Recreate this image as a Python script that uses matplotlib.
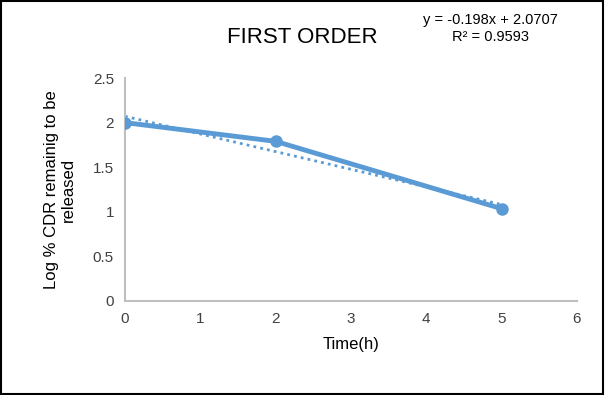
import numpy as np
import matplotlib.pyplot as plt

# Data
time_h = [0, 2, 5]
log_cdr = [2.0, 1.79, 1.035]
slope = -0.198
intercept = 2.0707
r_squared = 0.9593

plt.rcParams['font.family'] = ['Liberation Sans', 'DejaVu Sans']

fig = plt.figure(figsize=(6.05, 3.95), dpi=100)
ax = fig.add_axes([0.2066, 0.238, 0.747, 0.5645])

blue = '#5B9BD5'
ax.plot(time_h, log_cdr, color=blue, linewidth=3.5, marker='o', markersize=8,
        solid_capstyle='round', zorder=3)

# linear trendline
xt = np.array([min(time_h), max(time_h)])
ax.plot(xt, slope * xt + intercept, color=blue, linewidth=2, linestyle=(0, (1, 1.5)), zorder=2)

ax.set_xlim(0, 6)
ax.set_ylim(0, 2.5)
ax.set_xticks(range(0, 7))
ax.set_yticks([0, 0.5, 1, 1.5, 2, 2.5])
ax.set_yticklabels(['0', '0.5', '1', '1.5', '2', '2.5'])
ax.tick_params(length=0, labelsize=11, colors='#404040', pad=8)

for s in ['top', 'right']:
    ax.spines[s].set_visible(False)
for s in ['left', 'bottom']:
    ax.spines[s].set_color('#BFBFBF')
    ax.spines[s].set_linewidth(1.5)

ax.set_xlabel('Time(h)', fontsize=12, labelpad=8)
ax.set_ylabel('Log % CDR remainig to be\nreleased', fontsize=12, labelpad=12)

fig.text(0.5, 0.905, 'FIRST ORDER', ha='center', va='center', fontsize=16)
fig.text(0.81, 0.928, f'y = {slope}x + {intercept}\nR² = {r_squared}', ha='center', va='center',
         fontsize=10.5, linespacing=1.3)

# outer border
fig.patches.append(plt.Rectangle((0.002, 0.003), 0.995, 0.994, transform=fig.transFigure,
                                 fill=False, edgecolor='black', linewidth=1.5))

fig.savefig('out.png', dpi=100)
